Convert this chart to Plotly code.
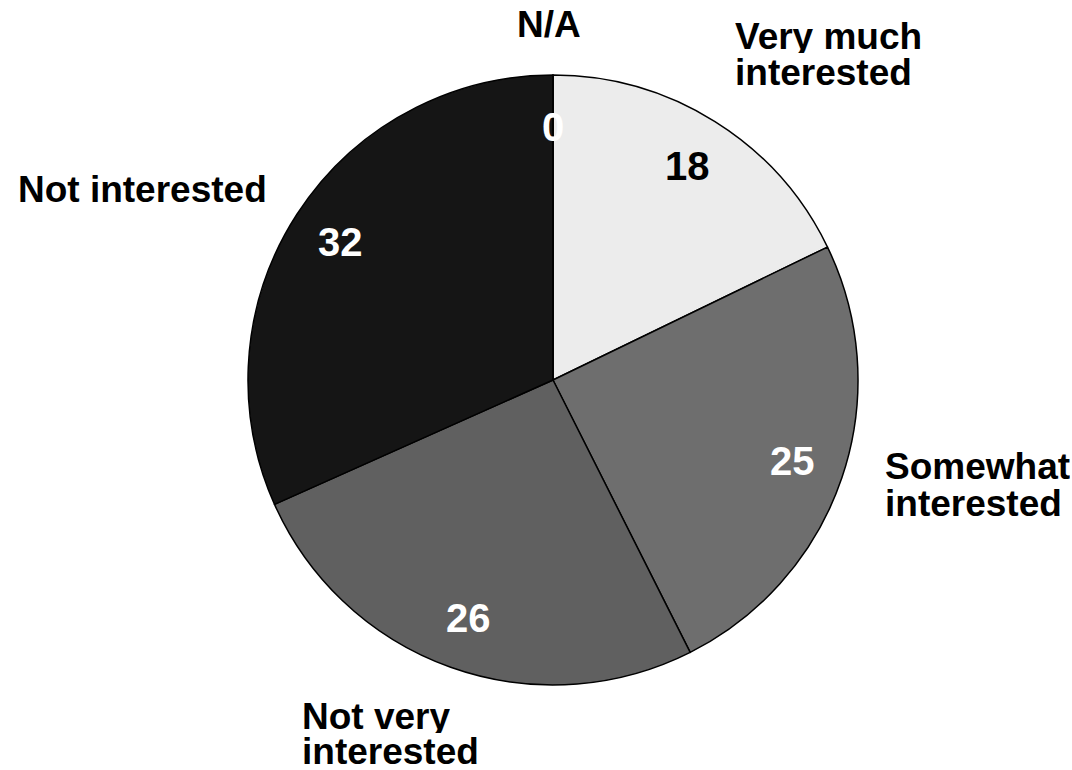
import math
import plotly.graph_objects as go

# Survey responses (percent), clockwise from 12 o'clock
categories = ["Very much interested", "Somewhat interested", "Not very interested",
              "Not interested", "N/A"]
values = [18, 25, 26, 32, 0]
colors = ["#ececec", "#6e6e6e", "#606060", "#151515", "#151515"]
number_colors = ["black", "white", "white", "white", "white"]

W, H = 1072, 770
CX, CY, R = 553, 380, 305
FONT = "Liberation Sans, Arial, sans-serif"


def px(x, y):
    """Pixel position -> paper coordinates."""
    return x / W, 1 - y / H


fig = go.Figure(go.Pie(
    labels=categories,
    values=values,
    sort=False,
    direction="clockwise",
    rotation=0,
    marker=dict(colors=colors, line=dict(color="black", width=1.5)),
    textinfo="none",
    hoverinfo="label+value",
    showlegend=False,
    domain=dict(x=[(CX - R) / W, (CX + R) / W],
                y=[(H - CY - R) / H, (H - CY + R) / H]),
))

annotations = []

# Value labels inside each slice, placed along the slice's mid-angle
total = sum(values)
cum = 0
for v, c in zip(values, number_colors):
    mid = (cum + v / 2) / total * 2 * math.pi
    cum += v
    x = CX + 0.83 * R * math.sin(mid)
    y = CY - 0.83 * R * math.cos(mid)
    ax, ay = px(x, y)
    annotations.append(dict(x=ax, y=ay, xref="paper", yref="paper",
                            text=f"<b>{v}</b>", showarrow=False,
                            xanchor="center", yanchor="middle",
                            font=dict(family=FONT, size=40, color=c)))

# Category names outside the pie, one annotation per line for tight leading
outer_lines = [
    ("N/A", 549, 24, "center"),
    ("Very much", 733, 36, "left"),
    ("interested", 733, 72, "left"),
    ("Not interested", 16, 189, "left"),
    ("Somewhat", 883, 466, "left"),
    ("interested", 883, 503, "left"),
    ("Not very", 300, 716, "left"),
    ("interested", 300, 751, "left"),
]
for txt, x, y, anchor in outer_lines:
    ax, ay = px(x, y)
    annotations.append(dict(x=ax, y=ay, xref="paper", yref="paper",
                            text=f"<b>{txt}</b>", showarrow=False,
                            xanchor=anchor, yanchor="middle",
                            height=34, valign="middle",
                            font=dict(family=FONT, size=37, color="black")))

fig.update_layout(
    width=W, height=H,
    margin=dict(l=0, r=0, t=0, b=0),
    paper_bgcolor="white",
    plot_bgcolor="white",
    annotations=annotations,
)

fig.write_html("out.html")
